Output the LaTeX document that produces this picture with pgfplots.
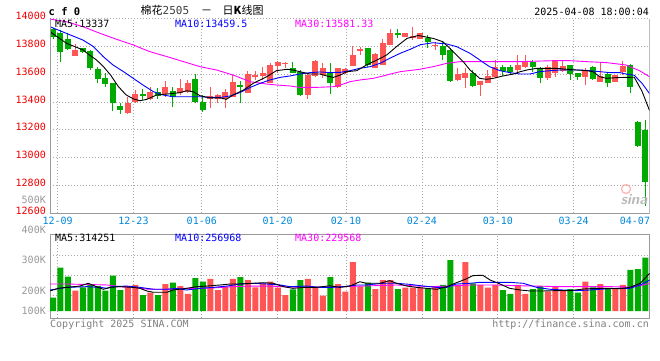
\documentclass[border=0pt]{standalone}
\usepackage{fontspec}
\usepackage{pgfplots}
\usepackage{pgfplotstable}
\pgfplotsset{compat=1.18}
\setmonofont{DejaVu Sans Mono}
\newfontfamily\cjk{Noto Sans CJK SC}
\definecolor{cred}{HTML}{FF5555}
\definecolor{cgreen}{HTML}{00AA00}
\definecolor{cgrid}{HTML}{A8A8A8}
\definecolor{caxis}{HTML}{999999}
\definecolor{cprice}{HTML}{F00000}
\definecolor{cdate}{HTML}{0088DD}
\definecolor{cvol}{HTML}{999999}
\definecolor{cblue}{HTML}{0000FF}
\definecolor{cmag}{HTML}{FF00FF}

\pgfplotstableread{
x lo hi bot top
3 13733 13814 13733 13774
10 13313 13438 13318 13395
11 13395 13486 13402 13455
13 13414 13505 13421 13474
15 13438 13551 13455 13505
17 13450 13565 13462 13503
18 13462 13558 13474 13539
21 13354 13510 13419 13443
22 13390 13455 13419 13450
23 13354 13491 13419 13474
24 13438 13594 13438 13544
26 13467 13625 13467 13601
27 13558 13625 13577 13594
28 13558 13654 13587 13606
29 13534 13678 13534 13666
30 13606 13695 13659 13690
31 13642 13690 13671 13678
34 13419 13601 13450 13594
35 13582 13702 13587 13697
36 13570 13678 13594 13642
38 13498 13642 13505 13642
39 13601 13642 13606 13635
40 13661 13802 13661 13738
41 13738 13798 13769 13781
43 13642 13750 13642 13742
44 13666 13850 13666 13826
45 13810 13922 13810 13893
47 13869 13898 13869 13893
48 13845 13937 13857 13874
49 13850 13898 13850 13893
51 13774 13833 13802 13810
54 13553 13642 13558 13601
55 13503 13642 13575 13611
57 13445 13551 13522 13551
58 13534 13630 13534 13587
59 13570 13702 13577 13654
62 13618 13738 13630 13666
63 13642 13738 13654 13690
66 13558 13666 13575 13649
67 13582 13702 13611 13697
68 13618 13697 13625 13659
71 13522 13642 13582 13630
73 13546 13678 13546 13587
75 13546 13594 13546 13594
76 13594 13695 13618 13659
}\redtab

\pgfplotstableread{
x lo hi bot top
0 13850 13929 13869 13922
1 13690 13917 13762 13898
2 13774 13893 13778 13853
4 13750 13790 13762 13786
5 13630 13774 13642 13769
6 13534 13649 13565 13635
7 13510 13611 13529 13572
8 13335 13539 13390 13539
9 13313 13390 13342 13371
12 13414 13491 13443 13455
14 13419 13498 13443 13472
16 13366 13505 13433 13481
19 13390 13601 13402 13563
20 13330 13450 13342 13397
25 13390 13553 13510 13522
32 13606 13690 13611 13647
33 13443 13630 13450 13618
37 13457 13678 13534 13611
42 13654 13786 13666 13786
46 13857 13922 13884 13898
50 13786 13881 13833 13862
52 13702 13833 13738 13802
53 13546 13786 13551 13774
56 13505 13630 13515 13611
60 13587 13666 13625 13654
61 13594 13666 13618 13649
64 13618 13702 13654 13690
65 13539 13654 13575 13642
69 13558 13666 13601 13666
70 13558 13611 13582 13611
72 13558 13659 13563 13649
74 13505 13611 13539 13601
77 13467 13671 13510 13666
78 13074 13263 13086 13258
79 12650 13271 12827 13199
}\greentab

\pgfplotstableread{
x v
3 169
10 208
11 217
13 153
15 225
17 208
18 142
21 267
22 175
23 203
24 267
26 258
27 197
28 231
29 244
30 194
31 133
34 267
35 197
36 128
38 225
39 161
40 408
41 203
43 183
44 258
45 258
47 194
48 194
49 194
51 203
54 217
55 408
57 217
58 194
59 217
62 217
63 142
66 161
67 203
68 175
71 244
73 225
75 189
76 217
}\redvol

\pgfplotstableread{
x v
0 111
1 361
2 286
4 197
5 225
6 208
7 169
8 294
9 175
12 133
14 133
16 236
19 275
20 244
25 283
32 181
33 258
37 283
42 236
46 183
50 189
52 217
53 425
56 231
60 175
61 142
64 183
65 208
69 183
70 153
72 197
74 189
77 342
78 350
79 444
}\greenvol

\pgfplotsset{
  candle/.style 2 args={forget plot, draw=none, mark=none,
    error bars/.cd, y dir=plus, y explicit, error mark=none,
    error bar style={draw=#1, line width=#2, solid}},
}

\begin{document}
\begin{tikzpicture}[x=1pt,y=1pt]
\useasboundingbox (0,0) rectangle (660,-360);
\fill[white] (0,0) rectangle (660,-360);

% ---------------- price panel ----------------
\begin{axis}[
  at={(50pt,-213.3pt)}, anchor=south west,
  scale only axis, width=599.6pt, height=194.8pt,
  xmin=-0.4, xmax=79.55, ymin=12600, ymax=14000,
  scaled x ticks=false, scaled y ticks=false,
  axis line style={draw=none},
  major tick length=0pt,
  xtick={0.613,10.73,19.84,29.96,39.07,49.19,59.31,69.43},
  xticklabels={12-09,12-23,01-06,01-20,02-10,02-24,03-10,03-24},
  extra x ticks={77.6}, extra x tick labels={04-07},
  extra x tick style={xmajorgrids=false},
  ytick={12600,12800,13000,13200,13400,13600,13800,14000},
  yticklabels={12600,12800,13000,13200,13400,13600,13800,14000},
  xmajorgrids, ymajorgrids,
  grid style={draw=cgrid, line width=0.8pt, dash pattern=on 1pt off 2pt},
  xticklabel style={font=\ttfamily\fontsize{10}{10}\selectfont, text=cdate, anchor=center, inner sep=0pt, yshift=-7.7pt},
  yticklabel style={font=\ttfamily\fontsize{10}{10}\selectfont, text=cprice, anchor=east, inner sep=0pt, xshift=-4pt, yshift=2.5pt},
]
% wicks
\addplot[candle={cred}{1pt}] table[x=x, y=lo, y error plus expr=\thisrow{hi}-\thisrow{lo}] \redtab;
\addplot[candle={cgreen}{1pt}] table[x=x, y=lo, y error plus expr=\thisrow{hi}-\thisrow{lo}] \greentab;
% bodies
\addplot[candle={cred}{6pt}] table[x=x, y=bot, y error plus expr=\thisrow{top}-\thisrow{bot}] \redtab;
\addplot[candle={cgreen}{6pt}] table[x=x, y=bot, y error plus expr=\thisrow{top}-\thisrow{bot}] \greentab;

% MA30
\addplot[cmag, line width=0.9pt, mark=none, forget plot] coordinates {
(-0.4,13996) (1.8,13977) (4.0,13941) (6.3,13893) (8.5,13850) (10.7,13810) (12.9,13762) (15.2,13726) (17.4,13690) (19.6,13654) (21.8,13630) (24.0,13594) (26.3,13546) (28.5,13529) (29.8,13522) (31.6,13515) (32.9,13505) (35.1,13505) (37.4,13510) (38.3,13522) (39.6,13546) (40.9,13558) (42.7,13570) (44.5,13594) (46.3,13618) (48.9,13635) (50.7,13654) (52.5,13678) (54.3,13690) (57.8,13690) (62.3,13690) (66.7,13697) (68.9,13697) (71.2,13690) (73.8,13683) (76.4,13666) (78.2,13625) (79.55,13581)
};
% MA10
\addplot[cblue, line width=0.9pt, mark=none, forget plot] coordinates {
(-0.4,13941) (1.8,13893) (4.0,13845) (5.4,13798) (6.7,13726) (8.0,13666) (9.4,13618) (10.7,13570) (12.0,13522) (13.4,13474) (14.7,13450) (16.0,13438) (17.8,13438) (19.6,13438) (20.9,13433) (22.3,13433) (23.6,13443) (24.9,13467) (26.3,13505) (27.6,13534) (28.9,13558) (30.3,13577) (31.6,13587) (32.9,13601) (34.3,13611) (35.6,13616) (36.9,13611) (38.3,13613) (39.6,13625) (40.9,13642) (42.3,13654) (43.6,13678) (44.9,13714) (46.3,13750) (47.6,13778) (49.0,13812) (50.7,13826) (52.5,13817) (53.8,13798) (55.6,13750) (56.9,13702) (58.2,13654) (59.6,13625) (60.9,13611) (62.3,13601) (63.6,13601) (64.9,13618) (66.3,13625) (67.6,13630) (68.9,13630) (70.3,13630) (71.6,13625) (72.9,13618) (74.3,13611) (75.6,13611) (76.5,13600) (77.5,13592) (78.53,13535) (79.55,13459.5)
};
% MA5
\addplot[black, line width=0.9pt, mark=none, forget plot] coordinates {
(-0.4,13905) (1.8,13822) (4.0,13774) (4.65,13746) (5.8,13702) (6.7,13656) (7.7,13592) (8.7,13512) (9.72,13452) (10.73,13422) (11.6,13409) (12.5,13419) (13.8,13450) (15.2,13457) (16.9,13467) (17.8,13481) (18.7,13474) (19.6,13445) (20.9,13430) (22.3,13430) (23.1,13419) (24.0,13450) (25.4,13486) (26.7,13534) (28.5,13582) (29.8,13625) (31.2,13635) (32.0,13630) (32.9,13618) (34.3,13601) (35.6,13601) (36.5,13587) (37.4,13577) (38.3,13594) (39.2,13618) (40.5,13625) (41.8,13666) (43.2,13702) (44.5,13738) (45.8,13798) (47.2,13857) (48.7,13878) (50.7,13857) (52.0,13833) (52.9,13786) (53.8,13738) (54.7,13690) (55.6,13630) (56.9,13570) (57.8,13563) (58.7,13570) (60.0,13587) (61.4,13601) (62.3,13618) (63.2,13630) (64.5,13642) (65.8,13642) (67.2,13642) (68.5,13635) (69.8,13630) (71.2,13625) (72.0,13618) (72.9,13582) (73.8,13570) (75.1,13575) (76.4,13577) (77.5,13578) (78.53,13478) (79.55,13337)
};
\draw[caxis, line width=1pt] (rel axis cs:0,1) -- (rel axis cs:0,0) -- (rel axis cs:1,0) -- (rel axis cs:1,1);
\end{axis}

% ---------------- volume panel ----------------
\begin{axis}[
  at={(50pt,-318.3pt)}, anchor=south west,
  scale only axis, width=599.6pt, height=84pt,
  xmin=-0.4, xmax=79.55, ymin=-60.8, ymax=639.2,
  scaled x ticks=false, scaled y ticks=false,
  axis line style={draw=caxis, line width=1pt},
  major tick length=0pt,
  xtick={0.613,10.73,19.84,29.96,39.07,49.19,59.31,69.43},
  xticklabels={},
  ytick={130,300,460}, yticklabels={},
  xmajorgrids, ymajorgrids,
  grid style={draw=cgrid, line width=0.8pt, dash pattern=on 1pt off 2pt},
]
\addplot[ybar, bar width=6pt, bar shift=0pt, fill=cred, draw=none, forget plot] table[x=x, y=v] \redvol;
\addplot[ybar, bar width=6pt, bar shift=0pt, fill=cgreen, draw=none, forget plot] table[x=x, y=v] \greenvol;
% vol MA30
\addplot[cmag, line width=0.9pt, mark=none, forget plot] coordinates {
(-0.4,225) (1.8,225) (7.2,217) (8.9,203) (10.7,197) (12.5,183) (14.3,181) (16.0,183) (17.8,189) (19.6,189) (21.8,194) (24.0,203) (26.3,208) (28.5,208) (30.7,203) (32.9,197) (36.9,200) (41.4,208) (45.8,217) (50.3,203) (52.9,208) (55.6,217) (59.2,217) (61.8,211) (64.5,208) (67.2,203) (70.7,203) (74.3,203) (76.9,200) (78.3,212) (79.55,229.6)
};
% vol MA10
\addplot[cblue, line width=0.9pt, mark=none, forget plot] coordinates {
(-0.4,175) (1.8,197) (4.5,203) (6.3,197) (7.2,189) (8.0,203) (9.8,208) (11.6,197) (13.4,181) (15.2,181) (16.5,189) (17.8,175) (19.6,189) (21.4,197) (23.2,208) (24.9,225) (26.7,231) (28.5,225) (30.3,217) (31.6,203) (33.8,208) (35.6,197) (36.9,196) (38.7,203) (40.5,217) (41.8,217) (44.0,231) (45.8,231) (47.6,222) (49.4,208) (51.2,197) (52.5,197) (53.8,225) (55.6,231) (56.9,239) (59.2,239) (60.9,239) (62.7,231) (64.5,197) (66.3,181) (68.1,175) (69.8,170) (71.6,175) (73.4,183) (75.2,189) (76.9,189) (78.3,217) (79.55,257)
};
% vol MA5
\addplot[black, line width=0.9pt, mark=none, forget plot] coordinates {
(-0.4,167) (0.7,189) (1.8,197) (3.6,208) (4.7,231) (5.8,203) (6.7,181) (7.6,197) (8.9,203) (10.7,197) (11.6,189) (12.5,167) (13.4,156) (15.2,156) (16.0,175) (17.8,189) (19.2,203) (20.5,208) (22.3,217) (23.6,225) (24.9,225) (26.7,231) (28.0,236) (29.4,231) (30.7,203) (32.0,189) (33.4,197) (35.1,197) (36.9,210) (38.3,197) (39.6,208) (40.9,244) (41.8,231) (43.6,231) (44.9,253) (45.8,231) (47.2,208) (48.5,197) (49.8,189) (51.2,181) (52.5,203) (53.8,236) (55.2,270) (56.0,295) (57.3,298) (58.3,258) (59.6,225) (60.9,189) (62.3,175) (63.6,167) (65.4,167) (67.2,170) (68.9,170) (70.7,183) (72.5,189) (74.3,189) (75.6,186) (76.9,197) (78.3,231) (79.55,314)
};
\end{axis}

% ---------------- texts ----------------
\node[anchor=base west, inner sep=0pt, font=\ttfamily\bfseries\fontsize{10.5}{10.5}\selectfont] at (48.5,-15.5) {c f 0};
\node[anchor=base west, inner sep=0pt, font=\fontsize{11}{11}\selectfont] at (140.5,-14) {{\cjk 棉花}{\ttfamily\color{black!75}2505}};
\node[anchor=base, inner sep=0pt, font=\fontsize{11}{11}\selectfont] at (206.7,-14) {\cjk －};
\node[anchor=base west, inner sep=0pt, font=\fontsize{11}{11}\selectfont] at (222.5,-14) {\cjk 日\textbf{K}线图};
\node[anchor=base east, inner sep=0pt, font=\ttfamily\fontsize{10}{10}\selectfont] at (649,-15.3) {2025-04-08 18:00:04};

\node[anchor=base west, inner sep=0pt, font=\ttfamily\fontsize{10}{10}\selectfont] at (55,-27.3) {MA5:13337};
\node[anchor=base west, inner sep=0pt, font=\ttfamily\fontsize{10}{10}\selectfont, text=cblue] at (175,-27.3) {MA10:13459.5};
\node[anchor=base west, inner sep=0pt, font=\ttfamily\fontsize{10}{10}\selectfont, text=cmag] at (295,-27.3) {MA30:13581.33};

\node[anchor=base west, inner sep=0pt, font=\ttfamily\fontsize{10}{10}\selectfont] at (55,-241.7) {MA5:314251};
\node[anchor=base west, inner sep=0pt, font=\ttfamily\fontsize{10}{10}\selectfont, text=cblue] at (175,-241.7) {MA10:256968};
\node[anchor=base west, inner sep=0pt, font=\ttfamily\fontsize{10}{10}\selectfont, text=cmag] at (295,-241.7) {MA30:229568};

\foreach \lab/\yy in {500K/200,400K/230,300K/260,200K/291,100K/311}{
  \node[anchor=east, inner sep=0pt, font=\ttfamily\fontsize{10}{10}\selectfont, text=cvol] at (46,-\yy) {\lab};
}

\node[anchor=base west, inner sep=0pt, font=\ttfamily\fontsize{10}{10}\selectfont, text=black!50] at (50,-327) {Copyright 2025 SINA.COM};
\node[anchor=base east, inner sep=0pt, font=\ttfamily\fontsize{10}{10}\selectfont, text=black!50] at (649,-327) {http://finance.sina.com.cn};

% sina watermark
\draw[red!45, line width=1.4pt, opacity=0.6] (626,-189) circle (4.5);
\node[inner sep=0pt, font=\sffamily\bfseries\itshape\fontsize{15}{15}\selectfont, text=black!30, opacity=0.9] at (634,-200) {sina};
\end{tikzpicture}
\end{document}
